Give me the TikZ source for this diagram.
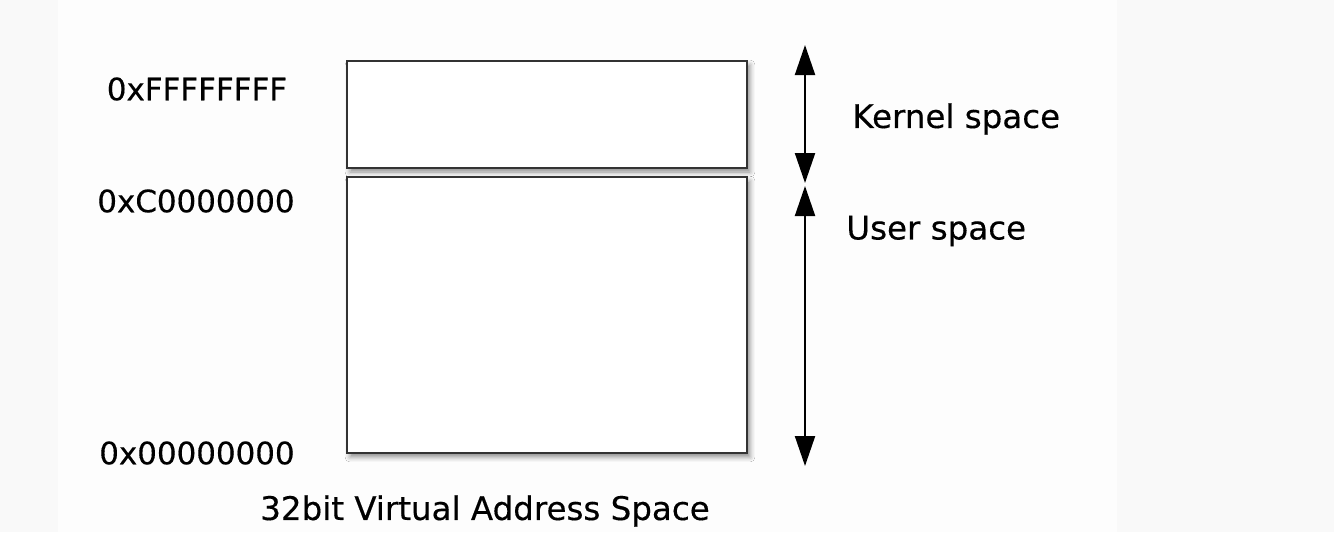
\documentclass[tikz,border=0pt]{standalone}
\usepackage{fontspec}
\setmainfont{DejaVu Sans}[FakeBold=0.35]
\usetikzlibrary{arrows.meta,shadows.blur}
\definecolor{pagebg}{HTML}{F9F9F9}
\definecolor{canvasbg}{HTML}{FDFDFD}
\definecolor{boxline}{HTML}{333333}
\tikzset{
	membox/.style={draw=boxline, line width=2.2pt*0.569, fill=white, inner sep=0pt,
		blur shadow={shadow xshift=0.06cm, shadow yshift=-0.08cm, shadow blur radius=0.1cm, shadow opacity=45}},
	addr/.style={black, font=\fontsize{17.6}{21}\selectfont},
	word/.style={black, font=\fontsize{18.5}{22}\selectfont},
	span/.style={black, line width=1.2pt, {Triangle[length=0.6cm,width=0.4cm]}-{Triangle[length=0.6cm,width=0.4cm]}}
}
\begin{document}
\begin{tikzpicture}[x=0.02cm, y=-0.02cm]
		\fill[pagebg] (0,0) rectangle (1334,532);
		\fill[canvasbg] (58,0) rectangle (1117,532);
		\useasboundingbox (0,0) rectangle (1334,532);
		\node[membox, minimum width=8cm, minimum height=2.14cm] (kernel) at (547,114.5) {};
		\node[membox, minimum width=8cm, minimum height=5.52cm] (user) at (547,315) {};
		\node[addr] (addrtop) at (197,89) {0xFFFFFFFF};
		\node[addr] (addrmid) at (196,201) {0xC0000000};
		\node[addr] (addrlow) at (197,453) {0x00000000};
		\coordinate (ktop) at (805,45);
		\coordinate (kbot) at (805,183);
		\coordinate (utop) at (805,186);
		\coordinate (ubot) at (805,466);
		\draw[span] (ktop) -- (kbot);
		\draw[span] (utop) -- (ubot);
		\node[word, anchor=west, inner sep=0pt] (kname) at (852,119) {Kernel space};
		\node[word, anchor=west, inner sep=0pt] (uname) at (846,231) {User space};
		\node[word] (caption) at (485,511) {32bit Virtual Address Space};
	\end{tikzpicture}
\end{document}
